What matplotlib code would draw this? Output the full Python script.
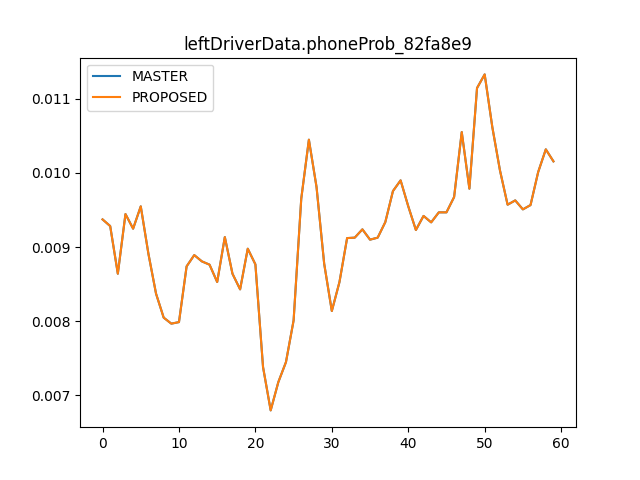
import matplotlib
matplotlib.use('Agg')
import matplotlib.pyplot as plt

# values (both series overlap)
master = [0.009373, 0.009283, 0.008641, 0.009445, 0.009248, 0.009549, 0.008911, 0.008372,
          0.008049, 0.007968, 0.007989, 0.008740, 0.008892, 0.008807, 0.008763, 0.008529,
          0.009135, 0.008641, 0.008430, 0.008978, 0.008767, 0.007383, 0.006799, 0.007180,
          0.007450, 0.008012, 0.009652, 0.010447, 0.009809, 0.008776, 0.008138, 0.008529,
          0.009121, 0.009127, 0.009239, 0.009100, 0.009127, 0.009337, 0.009755, 0.009899,
          0.009550, 0.009230, 0.009420, 0.009333, 0.009468, 0.009468, 0.009674, 0.010550,
          0.009787, 0.011143, 0.011327, 0.010617, 0.010034, 0.009571, 0.009629, 0.009508,
          0.009566, 0.010011, 0.010317, 0.010155]
proposed = list(master)

fig, ax = plt.subplots()
ax.set_title('leftDriverData.phoneProb_82fa8e9')
ax.plot(range(len(master)), master, label='MASTER')
ax.plot(range(len(proposed)), proposed, label='PROPOSED')
ax.legend(loc='upper left')

plt.savefig('out.png')
